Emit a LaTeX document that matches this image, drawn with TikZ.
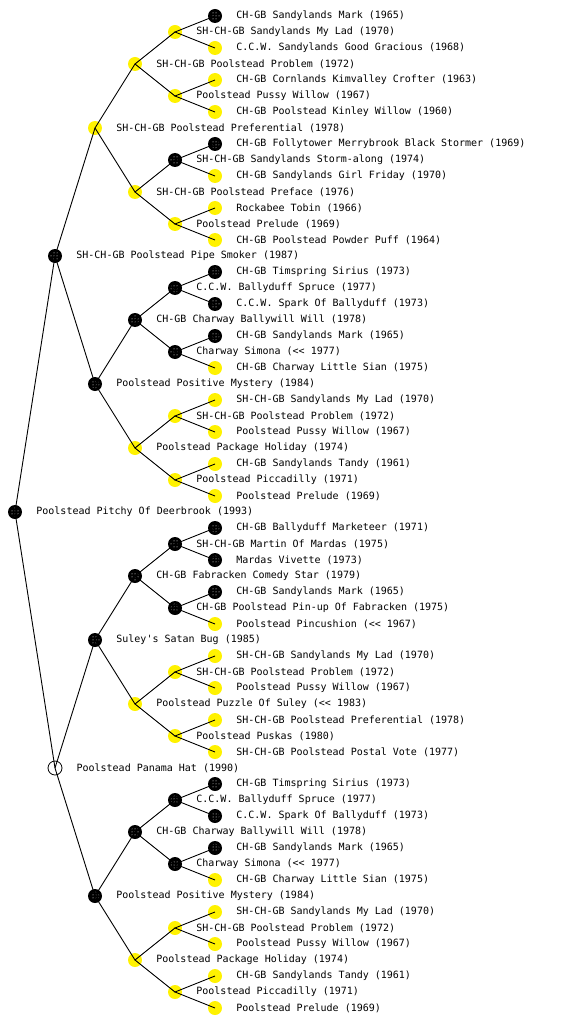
\documentclass[tikz,border=0pt]{standalone}
\usepackage{fontspec}
\setmonofont{DejaVu Sans Mono}
\usepackage{tikz}
\usetikzlibrary{patterns}

\begin{document}
\begin{tikzpicture}[x=1pt, y=-1pt, every label/.style={font=\ttfamily\fontsize{10}{12}\selectfont, inner sep=0pt, xshift=14pt}]
\tikzstyle{dog}=[circle, inner sep=0pt, minimum size=14pt]
\tikzstyle{sdog}=[dog, fill=black, path picture={\fill[pattern=dots, pattern color=white] (path picture bounding box.center) circle (4.5pt);}]
\tikzstyle{ydog}=[dog, fill=yellow]
\tikzstyle{wdog}=[dog, draw, fill=none, line width=0.8pt]
\tikzstyle{link}=[line width=0.9pt]
\useasboundingbox (0,0) rectangle (560,1024);
% generation 0
\node[sdog, label=right:{Poolstead Pitchy Of Deerbrook (1993)}] (pitchy) at (15,512) {};
% generation 1
\node[sdog, label=right:{SH-CH-GB Poolstead Pipe Smoker (1987)}] (pipesmoker) at (55,256) {};
\node[wdog, label=right:{Poolstead Panama Hat (1990)}] (panama) at (55,768) {};
% generation 2
\node[ydog, label=right:{SH-CH-GB Poolstead Preferential (1978)}] (preferential) at (95,128) {};
\node[sdog, label=right:{Poolstead Positive Mystery (1984)}] (mystery) at (95,384) {};
\node[sdog, label=right:{Suley's Satan Bug (1985)}] (satanbug) at (95,640) {};
\node[sdog, label=right:{Poolstead Positive Mystery (1984)}] (mysteryb) at (95,896) {};
% generation 3
\node[ydog, label=right:{SH-CH-GB Poolstead Problem (1972)}] (problem) at (135,64) {};
\node[ydog, label=right:{SH-CH-GB Poolstead Preface (1976)}] (preface) at (135,192) {};
\node[sdog, label=right:{CH-GB Charway Ballywill Will (1978)}] (ballywill) at (135,320) {};
\node[ydog, label=right:{Poolstead Package Holiday (1974)}] (package) at (135,448) {};
\node[sdog, label=right:{CH-GB Fabracken Comedy Star (1979)}] (comedystar) at (135,576) {};
\node[ydog, label=right:{Poolstead Puzzle Of Suley (<< 1983)}] (puzzle) at (135,704) {};
\node[sdog, label=right:{CH-GB Charway Ballywill Will (1978)}] (ballywillb) at (135,832) {};
\node[ydog, label=right:{Poolstead Package Holiday (1974)}] (packageb) at (135,960) {};
% generation 4
\node[ydog, label=right:{SH-CH-GB Sandylands My Lad (1970)}] (mylad) at (175,32) {};
\node[ydog, label=right:{Poolstead Pussy Willow (1967)}] (pussywillow) at (175,96) {};
\node[sdog, label=right:{SH-CH-GB Sandylands Storm-along (1974)}] (stormalong) at (175,160) {};
\node[ydog, label=right:{Poolstead Prelude (1969)}] (prelude) at (175,224) {};
\node[sdog, label=right:{C.C.W. Ballyduff Spruce (1977)}] (spruce) at (175,288) {};
\node[sdog, label=right:{Charway Simona (<< 1977)}] (simona) at (175,352) {};
\node[ydog, label=right:{SH-CH-GB Poolstead Problem (1972)}] (problemb) at (175,416) {};
\node[ydog, label=right:{Poolstead Piccadilly (1971)}] (piccadilly) at (175,480) {};
\node[sdog, label=right:{SH-CH-GB Martin Of Mardas (1975)}] (martin) at (175,544) {};
\node[sdog, label=right:{CH-GB Poolstead Pin-up Of Fabracken (1975)}] (pinup) at (175,608) {};
\node[ydog, label=right:{SH-CH-GB Poolstead Problem (1972)}] (problemc) at (175,672) {};
\node[ydog, label=right:{Poolstead Puskas (1980)}] (puskas) at (175,736) {};
\node[sdog, label=right:{C.C.W. Ballyduff Spruce (1977)}] (spruceb) at (175,800) {};
\node[sdog, label=right:{Charway Simona (<< 1977)}] (simonab) at (175,864) {};
\node[ydog, label=right:{SH-CH-GB Poolstead Problem (1972)}] (problemd) at (175,928) {};
\node[ydog, label=right:{Poolstead Piccadilly (1971)}] (piccadillyb) at (175,992) {};
% generation 5
\node[sdog, label=right:{CH-GB Sandylands Mark (1965)}] (sandymark) at (215,16) {};
\node[ydog, label=right:{C.C.W. Sandylands Good Gracious (1968)}] (gracious) at (215,48) {};
\node[ydog, label=right:{CH-GB Cornlands Kimvalley Crofter (1963)}] (crofter) at (215,80) {};
\node[ydog, label=right:{CH-GB Poolstead Kinley Willow (1960)}] (kinley) at (215,112) {};
\node[sdog, label=right:{CH-GB Follytower Merrybrook Black Stormer (1969)}] (stormer) at (215,144) {};
\node[ydog, label=right:{CH-GB Sandylands Girl Friday (1970)}] (girlfriday) at (215,176) {};
\node[ydog, label=right:{Rockabee Tobin (1966)}] (tobin) at (215,208) {};
\node[ydog, label=right:{CH-GB Poolstead Powder Puff (1964)}] (powderpuff) at (215,240) {};
\node[sdog, label=right:{CH-GB Timspring Sirius (1973)}] (sirius) at (215,272) {};
\node[sdog, label=right:{C.C.W. Spark Of Ballyduff (1973)}] (spark) at (215,304) {};
\node[sdog, label=right:{CH-GB Sandylands Mark (1965)}] (sandymarkb) at (215,336) {};
\node[ydog, label=right:{CH-GB Charway Little Sian (1975)}] (sian) at (215,368) {};
\node[ydog, label=right:{SH-CH-GB Sandylands My Lad (1970)}] (myladb) at (215,400) {};
\node[ydog, label=right:{Poolstead Pussy Willow (1967)}] (pussywillowb) at (215,432) {};
\node[ydog, label=right:{CH-GB Sandylands Tandy (1961)}] (tandy) at (215,464) {};
\node[ydog, label=right:{Poolstead Prelude (1969)}] (preludeb) at (215,496) {};
\node[sdog, label=right:{CH-GB Ballyduff Marketeer (1971)}] (marketeer) at (215,528) {};
\node[sdog, label=right:{Mardas Vivette (1973)}] (vivette) at (215,560) {};
\node[sdog, label=right:{CH-GB Sandylands Mark (1965)}] (sandymarkc) at (215,592) {};
\node[ydog, label=right:{Poolstead Pincushion (<< 1967)}] (pincushion) at (215,624) {};
\node[ydog, label=right:{SH-CH-GB Sandylands My Lad (1970)}] (myladc) at (215,656) {};
\node[ydog, label=right:{Poolstead Pussy Willow (1967)}] (pussywillowc) at (215,688) {};
\node[ydog, label=right:{SH-CH-GB Poolstead Preferential (1978)}] (preferentialb) at (215,720) {};
\node[ydog, label=right:{SH-CH-GB Poolstead Postal Vote (1977)}] (postalvote) at (215,752) {};
\node[sdog, label=right:{CH-GB Timspring Sirius (1973)}] (siriusb) at (215,784) {};
\node[sdog, label=right:{C.C.W. Spark Of Ballyduff (1973)}] (sparkb) at (215,816) {};
\node[sdog, label=right:{CH-GB Sandylands Mark (1965)}] (sandymarkd) at (215,848) {};
\node[ydog, label=right:{CH-GB Charway Little Sian (1975)}] (sianb) at (215,880) {};
\node[ydog, label=right:{SH-CH-GB Sandylands My Lad (1970)}] (myladd) at (215,912) {};
\node[ydog, label=right:{Poolstead Pussy Willow (1967)}] (pussywillowd) at (215,944) {};
\node[ydog, label=right:{CH-GB Sandylands Tandy (1961)}] (tandyb) at (215,976) {};
\node[ydog, label=right:{Poolstead Prelude (1969)}] (preludec) at (215,1008) {};
% lines: sire above, dam below
\draw[link] (pipesmoker.center) -- (pitchy.center) -- (panama.center);
\draw[link] (preferential.center) -- (pipesmoker.center) -- (mystery.center);
\draw[link] (satanbug.center) -- (panama.center) -- (mysteryb.center);
\draw[link] (problem.center) -- (preferential.center) -- (preface.center);
\draw[link] (ballywill.center) -- (mystery.center) -- (package.center);
\draw[link] (comedystar.center) -- (satanbug.center) -- (puzzle.center);
\draw[link] (ballywillb.center) -- (mysteryb.center) -- (packageb.center);
\draw[link] (mylad.center) -- (problem.center) -- (pussywillow.center);
\draw[link] (stormalong.center) -- (preface.center) -- (prelude.center);
\draw[link] (spruce.center) -- (ballywill.center) -- (simona.center);
\draw[link] (problemb.center) -- (package.center) -- (piccadilly.center);
\draw[link] (martin.center) -- (comedystar.center) -- (pinup.center);
\draw[link] (problemc.center) -- (puzzle.center) -- (puskas.center);
\draw[link] (spruceb.center) -- (ballywillb.center) -- (simonab.center);
\draw[link] (problemd.center) -- (packageb.center) -- (piccadillyb.center);
\draw[link] (sandymark.center) -- (mylad.center) -- (gracious.center);
\draw[link] (crofter.center) -- (pussywillow.center) -- (kinley.center);
\draw[link] (stormer.center) -- (stormalong.center) -- (girlfriday.center);
\draw[link] (tobin.center) -- (prelude.center) -- (powderpuff.center);
\draw[link] (sirius.center) -- (spruce.center) -- (spark.center);
\draw[link] (sandymarkb.center) -- (simona.center) -- (sian.center);
\draw[link] (myladb.center) -- (problemb.center) -- (pussywillowb.center);
\draw[link] (tandy.center) -- (piccadilly.center) -- (preludeb.center);
\draw[link] (marketeer.center) -- (martin.center) -- (vivette.center);
\draw[link] (sandymarkc.center) -- (pinup.center) -- (pincushion.center);
\draw[link] (myladc.center) -- (problemc.center) -- (pussywillowc.center);
\draw[link] (preferentialb.center) -- (puskas.center) -- (postalvote.center);
\draw[link] (siriusb.center) -- (spruceb.center) -- (sparkb.center);
\draw[link] (sandymarkd.center) -- (simonab.center) -- (sianb.center);
\draw[link] (myladd.center) -- (problemd.center) -- (pussywillowd.center);
\draw[link] (tandyb.center) -- (piccadillyb.center) -- (preludec.center);
\end{tikzpicture}
\end{document}
